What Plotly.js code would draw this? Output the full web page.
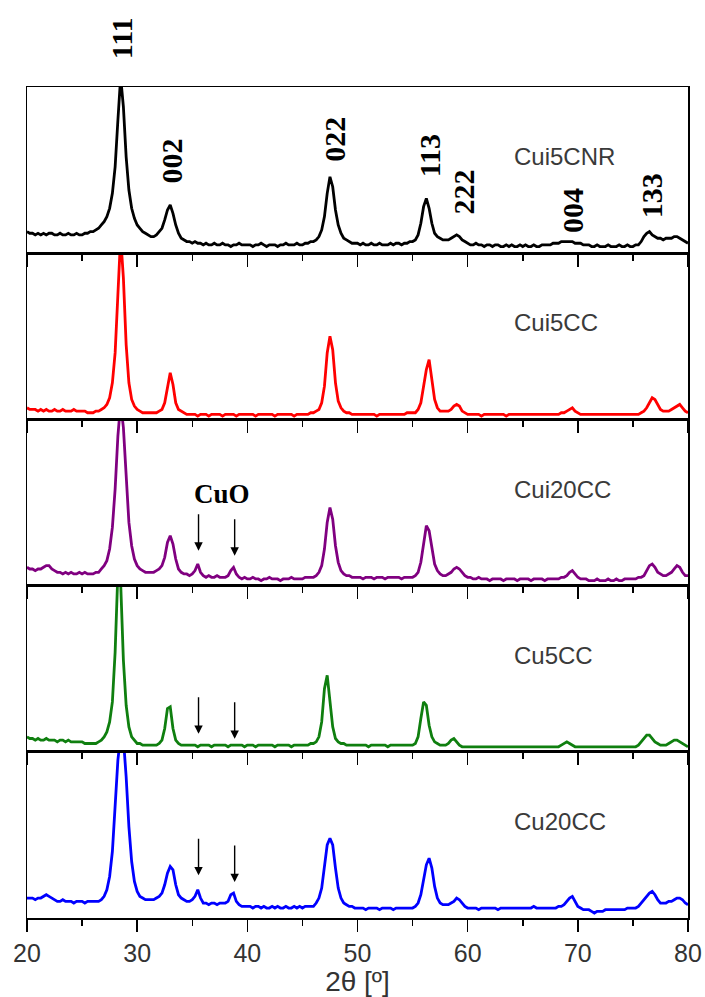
<!DOCTYPE html>
<html>
<head>
<meta charset="utf-8">
<script src="https://cdn.plot.ly/plotly-3.0.1.min.js"></script>
<style>html,body{margin:0;padding:0;background:#fff;}#chart{width:705px;height:997px;}</style>
</head>
<body>
<div id="chart"></div>
<script>
// 2θ scan positions (degrees)
const twoTheta = [
20,20.25,20.5,20.75,21,21.25,21.5,21.75,22,22.25,22.5,22.75,23,23.25,23.5,23.75,24,24.25,24.5,24.75,
25,25.25,25.5,25.75,26,26.25,26.5,26.75,27,27.25,27.5,27.75,28,28.25,28.5,28.75,29,29.25,29.5,29.75,
30,30.25,30.5,30.75,31,31.25,31.5,31.75,32,32.25,32.5,32.75,33,33.25,33.5,33.75,34,34.25,34.5,34.75,
35,35.25,35.5,35.75,36,36.25,36.5,36.75,37,37.25,37.5,37.75,38,38.25,38.5,38.75,39,39.25,39.5,39.75,
40,40.25,40.5,40.75,41,41.25,41.5,41.75,42,42.25,42.5,42.75,43,43.25,43.5,43.75,44,44.25,44.5,44.75,
45,45.25,45.5,45.75,46,46.25,46.5,46.75,47,47.25,47.5,47.75,48,48.25,48.5,48.75,49,49.25,49.5,49.75,
50,50.25,50.5,50.75,51,51.25,51.5,51.75,52,52.25,52.5,52.75,53,53.25,53.5,53.75,54,54.25,54.5,54.75,
55,55.25,55.5,55.75,56,56.25,56.5,56.75,57,57.25,57.5,57.75,58,58.25,58.5,58.75,59,59.25,59.5,59.75,
60,60.25,60.5,60.75,61,61.25,61.5,61.75,62,62.25,62.5,62.75,63,63.25,63.5,63.75,64,64.25,64.5,64.75,
65,65.25,65.5,65.75,66,66.25,66.5,66.75,67,67.25,67.5,67.75,68,68.25,68.5,68.75,69,69.25,69.5,69.75,
70,70.25,70.5,70.75,71,71.25,71.5,71.75,72,72.25,72.5,72.75,73,73.25,73.5,73.75,74,74.25,74.5,74.75,
75,75.25,75.5,75.75,76,76.25,76.5,76.75,77,77.25,77.5,77.75,78,78.25,78.5,78.75,79,79.25,79.5,79.75,
80];

// Intensities (% of panel height)
const cui5cnr = [
13,12,12,11,12,11,12,11,12,12,11,11,12,11,11,12,11,11,12,11,
11,12,12,13,13,14,15,17,19,22,27,36,52,80,106,88,58,38,27,21,
17,15,13,12,11,10,10,11,13,15,20,26,29,24,17,12,9,8,7,7,
6,7,6,6,5,6,5,5,6,5,5,6,5,5,4,5,5,6,5,5,
5,5,4,5,5,6,5,4,5,5,5,4,5,5,6,5,5,5,6,5,
5,6,6,7,7,8,10,14,22,36,46,40,26,17,12,9,8,7,6,6,
6,5,6,5,5,6,5,5,6,5,5,5,6,5,6,6,5,6,6,7,
7,8,11,18,28,33,27,18,12,10,9,8,8,8,9,10,11,10,8,7,
6,5,5,6,5,5,4,5,5,4,5,5,4,4,5,4,5,4,4,5,
4,5,4,4,5,4,4,5,5,5,5,6,6,6,7,7,7,7,7,6,
6,6,5,5,5,4,4,5,4,4,4,5,4,4,4,5,4,4,5,4,
4,5,5,7,10,12,13,11,10,9,9,8,9,9,9,10,10,9,8,7,
6];

const cui5cc = [
7,6,6,6,5,6,5,6,5,5,6,5,5,6,5,5,5,6,5,5,
5,5,4,4,4,5,5,6,7,9,13,22,40,75,110,85,45,22,12,8,
6,5,4,4,4,4,4,4,5,6,10,20,28,21,10,6,5,4,3,3,
3,3,2,3,3,3,2,3,3,3,3,2,3,3,3,3,2,3,3,3,
3,3,3,2,3,3,3,3,3,3,2,3,3,3,3,3,3,2,3,3,
3,3,3,4,4,5,6,10,20,40,50,42,22,11,7,5,4,4,3,3,
3,3,3,3,3,3,3,2,3,3,3,3,3,3,3,3,3,3,4,4,
4,4,6,10,20,30,36,24,12,7,5,5,5,5,6,8,9,8,5,4,
3,3,3,3,3,2,3,3,3,3,3,3,3,3,2,3,3,3,3,3,
3,3,3,3,3,3,3,3,3,3,3,3,3,3,4,4,5,6,7,5,
4,3,3,3,3,3,3,3,3,3,3,3,3,3,3,3,3,3,3,3,
3,3,3,4,5,7,10,13,12,9,6,5,5,5,6,7,8,9,7,5,
4];

const cui20cc = [
11,10,10,9,10,10,11,12,12,10,9,8,8,7,8,7,8,7,7,8,
7,8,7,7,7,8,8,10,12,15,22,35,58,90,110,95,62,38,24,16,
12,10,9,8,8,8,8,9,10,12,17,26,30,25,16,10,8,7,7,6,
7,9,13,8,6,5,6,5,5,6,5,5,5,6,9,11,7,5,4,5,
4,4,5,4,4,3,4,4,5,4,4,4,3,4,4,4,5,4,4,4,
4,5,5,5,5,6,8,12,22,38,47,40,24,14,9,7,6,6,5,5,
5,5,4,5,5,5,4,5,5,5,4,5,5,5,5,5,4,5,5,5,
5,6,8,14,26,36,33,22,13,9,7,6,6,7,8,10,11,10,8,6,
5,5,4,4,5,4,4,4,3,4,4,4,4,3,4,4,4,4,3,4,
4,4,4,3,4,4,4,4,3,4,4,4,4,4,5,5,6,8,9,7,
5,4,4,4,3,3,3,4,3,3,3,4,3,3,4,3,3,4,4,4,
4,4,5,5,6,9,12,13,11,8,7,6,6,7,8,10,12,11,8,6,
6];

const cu5cc = [
9,8,8,7,8,7,7,8,7,7,7,6,7,7,6,7,6,6,6,6,
6,5,5,5,5,5,6,7,9,12,18,30,60,108,102,55,28,15,9,7,
5,5,4,4,4,4,4,4,5,7,14,26,27,14,7,5,4,4,4,4,
4,4,3,4,4,4,4,3,4,4,4,4,4,3,4,4,4,4,4,3,
4,4,4,3,4,4,4,4,4,4,3,4,4,4,4,4,3,4,4,4,
4,4,4,5,5,6,9,18,38,46,32,15,8,6,5,5,4,4,4,4,
4,4,4,4,3,4,4,4,4,4,4,3,4,4,4,4,4,4,4,4,
4,5,9,20,30,28,16,9,6,5,4,4,4,5,7,8,6,4,3,3,
3,3,3,3,3,3,3,3,3,3,3,3,3,3,3,3,3,3,3,3,
3,3,3,3,3,3,3,3,3,3,3,3,3,3,4,5,6,5,4,3,
3,3,3,3,3,3,3,3,3,3,3,3,3,3,3,3,3,3,3,3,
3,3,4,6,8,10,10,8,6,5,4,4,4,5,6,7,7,6,5,4,
3];

const cu20cc = [
12,12,12,11,12,12,13,14,13,12,11,10,10,11,10,10,10,9,10,10,
10,9,10,10,10,10,10,11,13,17,25,40,65,95,110,108,85,55,34,22,
16,13,12,11,11,11,11,12,13,15,20,27,31,29,20,14,12,11,10,10,
11,13,17,12,9,9,8,9,9,8,9,9,9,10,14,15,10,8,7,7,
7,7,6,7,7,6,7,6,6,7,6,7,6,6,7,6,6,7,6,7,
6,7,7,7,7,9,12,18,30,44,48,44,30,18,12,9,8,7,7,6,
6,6,6,5,6,6,6,6,5,6,6,6,6,5,6,6,6,6,6,6,
6,7,9,14,22,32,36,30,19,12,9,8,8,8,9,10,12,11,9,7,
6,6,6,6,5,6,6,6,6,6,6,5,6,6,6,6,6,6,6,6,
6,6,6,6,7,6,6,6,6,6,6,6,6,7,7,8,10,12,13,10,
7,6,5,5,5,4,3,4,4,4,5,5,5,5,5,5,5,5,6,6,
6,6,7,9,11,13,15,16,14,11,9,9,9,10,10,11,12,12,11,9,
8];

const sampleNames = ['Cui5CNR', 'Cui5CC', 'Cui20CC', 'Cu5CC', 'Cu20CC'];
const sampleSeries = [cui5cnr, cui5cc, cui20cc, cu5cc, cu20cc];
const millerLabels = ['111', '002', '022', '113', '222', '004', '133'];
const millerPeaks = [28.6, 33.1, 47.85, 56.5, 59.6, 69.45, 76.65];
const cuoLabel = 'CuO';
const cuoPeaks = [35.57, 38.85];
const xTickVals = [20, 30, 40, 50, 60, 70, 80];

const colors = ['#000000', '#ff0000', '#800080', '#0f7f0f', '#0000ff'];
// panel index 0 = top; axis suffixes from top to bottom
const axSuffix = ['5', '4', '3', '2', ''];

const traces = sampleSeries.map((ys, i) => ({
  type: 'scatter', mode: 'lines',
  x: twoTheta, y: ys,
  xaxis: 'x' + axSuffix[i], yaxis: 'y' + axSuffix[i],
  line: {color: colors[i], width: 2.8},
  hoverinfo: 'skip', showlegend: false
}));

const layout = {
  width: 705, height: 997,
  margin: {l: 27, r: 17, t: 87, b: 79},
  paper_bgcolor: '#ffffff', plot_bgcolor: '#ffffff',
  showlegend: false,
  annotations: []
};

for (let i = 0; i < 5; i++) {
  const s = axSuffix[i];
  const bottom = (4 - i) * 0.2;
  const isBottom = (i === 4);
  layout['xaxis' + s] = {
    range: [20, 80], anchor: 'y' + s,
    showline: true, linecolor: '#000', linewidth: 1.5, mirror: true,
    ticks: 'outside', tickvals: xTickVals, ticklen: 12, tickwidth: 1.5, tickcolor: '#000',
    minor: {ticks: 'outside', dtick: 5, tick0: 20, ticklen: 6, tickwidth: 1.5, tickcolor: '#000'},
    showgrid: false, zeroline: false, fixedrange: true,
    showticklabels: isBottom,
    tickfont: {family: 'Liberation Sans, Arial, sans-serif', size: 25, color: '#333'},
    title: isBottom ? {text: '2θ [º]', font: {family: 'Liberation Sans, Arial, sans-serif', size: 28, color: '#333'}, standoff: 0} : {text: ''}
  };
  if (!isBottom) layout['xaxis' + s].matches = 'x';
  layout['yaxis' + s] = {
    domain: [bottom, bottom + 0.2], range: [0, 100], anchor: 'x' + s,
    showline: true, linecolor: '#000', linewidth: 1.5, mirror: true,
    ticks: '', showticklabels: false, showgrid: false, zeroline: false, fixedrange: true
  };
  layout.annotations.push({
    text: sampleNames[i], xref: 'x' + s, yref: 'y' + s, x: 64, y: 58,
    xanchor: 'left', yanchor: 'middle', showarrow: false,
    font: {family: 'Liberation Sans, Arial, sans-serif', size: 24, color: '#3a3a3a'}
  });
}

// Miller index labels (top panel)
const millerY = [null, 55.4, 68.7, 58.4, 36.7, 25.9, 34.3];
millerLabels.forEach((lab, k) => {
  const ann = {
    text: '<b>' + lab + '</b>', textangle: -90, showarrow: false,
    xref: 'x5', x: millerPeaks[k], xanchor: 'center', yanchor: 'middle',
    font: {family: 'Liberation Serif, Times New Roman, serif', size: 30, color: '#000'}
  };
  if (k === 0) { ann.yref = 'paper'; ann.y = 1.0584; }
  else { ann.yref = 'y5'; ann.y = millerY[k]; }
  layout.annotations.push(ann);
});

// CuO label and arrows
layout.annotations.push({
  text: '<b>' + cuoLabel + '</b>', xref: 'x3', yref: 'y3', x: 37.67, y: 55,
  xanchor: 'center', yanchor: 'middle', showarrow: false,
  font: {family: 'Liberation Serif, Times New Roman, serif', size: 27, color: '#000'}
});
const arrowTips = [
  {s: '3', y: [21, 18]},
  {s: '2', y: [10.8, 7.8]},
  {s: '', y: [25.7, 21.6]}
];
arrowTips.forEach(a => {
  cuoPeaks.forEach((px, j) => {
    layout.annotations.push({
      text: '', xref: 'x' + a.s, yref: 'y' + a.s, x: px, y: a.y[j],
      showarrow: true, arrowhead: 2, arrowsize: 1.2, arrowwidth: 1.4, arrowcolor: '#000',
      ax: 0, ay: -38, standoff: 0
    });
  });
});

Plotly.newPlot('chart', traces, layout, {staticPlot: true, displayModeBar: false});
</script>
</body>
</html>
